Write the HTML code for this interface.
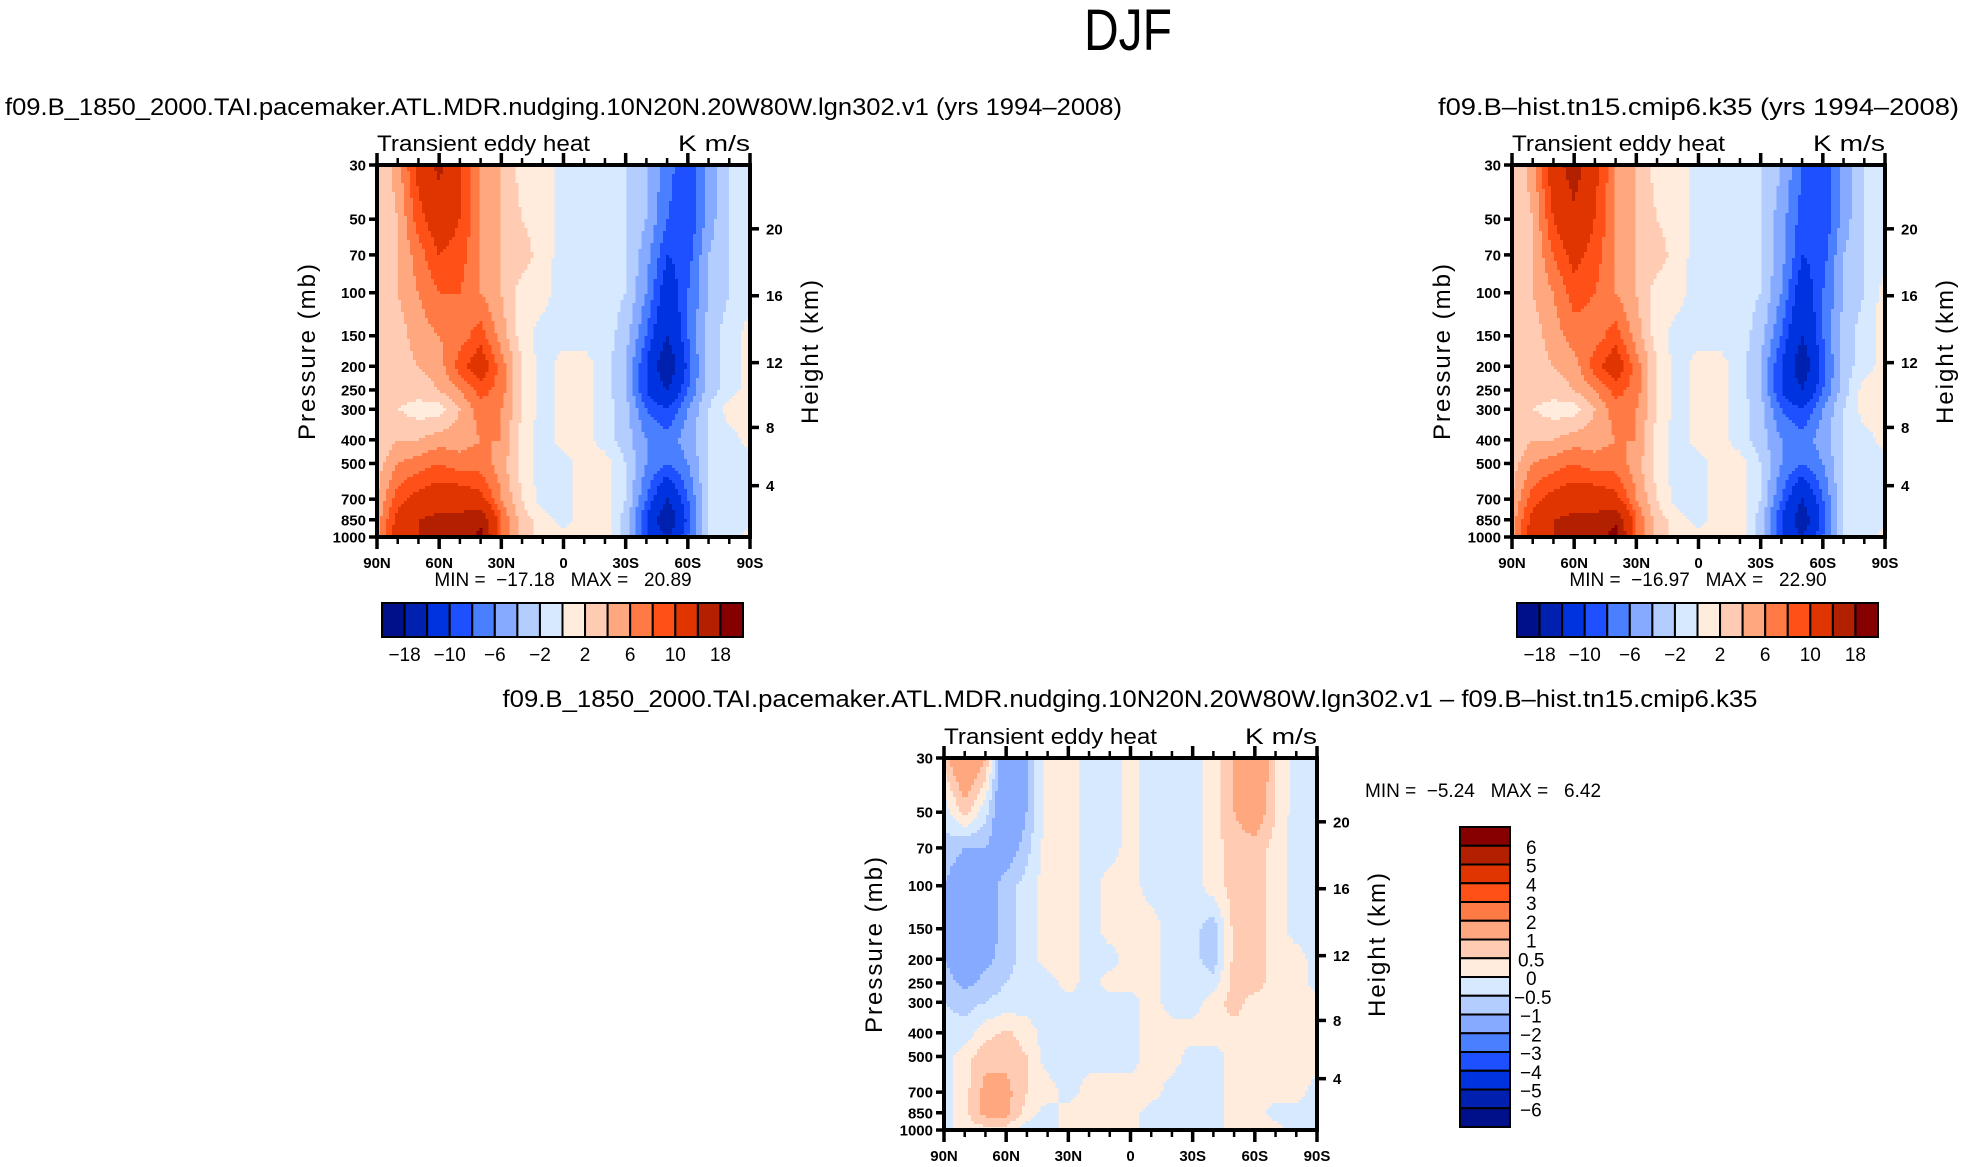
<!DOCTYPE html>
<html><head><meta charset="utf-8">
<style>
html,body{margin:0;padding:0;background:#fff;}
svg{display:block;font-family:"Liberation Sans",sans-serif;}
text{white-space:pre;}
</style></head>
<body>
<svg id="fig" width="1965" height="1167" viewBox="0 0 1965 1167" xmlns="http://www.w3.org/2000/svg">
<text x="1128" y="50" font-size="58" text-anchor="middle" textLength="88" lengthAdjust="spacingAndGlyphs">DJF</text>
<text x="5" y="115" font-size="24" textLength="1117" lengthAdjust="spacingAndGlyphs">f09.B_1850_2000.TAI.pacemaker.ATL.MDR.nudging.10N20N.20W80W.lgn302.v1 (yrs 1994–2008)</text>
<text x="1959" y="115" font-size="24" text-anchor="end" textLength="521" lengthAdjust="spacingAndGlyphs">f09.B–hist.tn15.cmip6.k35 (yrs 1994–2008)</text>
<text x="1130" y="707" font-size="24" text-anchor="middle" textLength="1255" lengthAdjust="spacingAndGlyphs">f09.B_1850_2000.TAI.pacemaker.ATL.MDR.nudging.10N20N.20W80W.lgn302.v1 – f09.B–hist.tn15.cmip6.k35</text>
<g id="layer"></g>
</svg>
<script>
// ---- data ----
const lats = [90,80,70,60,50,40,30,20,10,0,-10,-20,-30,-40,-50,-60,-70,-80,-90];
const levels = [30,50,70,100,150,200,250,300,400,500,700,850,1000];
const fullBounds = [-18,-14,-10,-8,-6,-4,-2,0,2,4,6,8,10,14,18];
const fullLabels = ["-18","-10","-6","-2","2","6","10","18"];
const diffBounds = [-6,-5,-4,-3,-2,-1,-0.5,0,0.5,1,2,3,4,5,6];
const diffLabels = ["6","5","4","3","2","1","0.5","0","-0.5","-1","-2","-3","-4","-5","-6"];
const palette = ["#00108a","#0020b0","#0033e0","#1e50ff","#4a7fff","#85aaff","#b3cdff","#d6e9ff","#ffecdc","#ffcbb3","#ffa880","#ff7a45","#ff5018","#e03500","#b22000","#870000"];
const field1 = [
[2,5,11,15,10,6,4,1,1,-1,-1,-1,-2,-4,-7,-10,-5,-2,-1],
[2,4,9,12,10,6,4,2,1,-1,-1,-1,-2,-4,-8,-10,-5,-2,-1],
[2,4,7,10,9,6,4,3,1,-1,-1,-1,-2,-5,-10,-9,-4,-2,-1],
[2,4,6,8,8,6,4,1,1,-1.5,-1,-1,-2,-6,-12,-8,-4,-2,-1],
[2,3,5,6,7,9,5,1,-1,-1,-1,-1,-3,-8,-14,-8,-3,-1,1],
[2,3,4,5,9,12,7,2,-1,1,1,-1,-4,-10,-18,-9,-3,-1,1],
[2,3,3,4,6,9,7,2,-1,1,1,-1,-4,-10,-14,-8,-3,-1,1],
[2,2,1,1,4,7,6,2,-1,1,1,-1,-3,-8,-10,-6,-2,1,1],
[2,4,4,5,5,6,6,1,-1,1,1,-1,-3,-6,-7,-5,-2,-1,1],
[3,6,7,8,7,7,5,1,-1,-1,1,1,-2,-6,-8,-6,-2,-1,-1],
[4,9,11,12,12,11,6,2,-1,-1,1,1,-2,-8,-14,-8,-2,-1,-1],
[5,11,14,15,15,17,8,3,1,-1,1,1,-3,-10,-18,-9,-2,-1,-1],
[5,12,14,16,15,19,8,3,1,1,1,1,-3,-10,-14,-8,-2,-1,1]];
const field2 = [
[2,5,12,16,11,6,4,1,1,-1,-1,-1,-2,-4,-8,-10,-5,-2,-1],
[2,4,10,13,10,6,4,2,1,-1,-1,-1,-2,-5,-9,-10,-5,-2,-1],
[2,4,8,11,9,6,4,3,1,-1,-1,-1,-2,-5,-10,-9,-4,-2,-1],
[2,4,6,9,8,6,4,1,1,-1.5,-1,-1,-2,-6,-12,-8,-4,-2,1],
[2,3,5,7,7,9,5,1,-1,-1,-1,-1,-3,-8,-14,-8,-3,-1,1],
[2,3,4,5,9,12,7,2,-1,1,1,-1,-4,-10,-17,-9,-3,-1,1],
[2,3,3,4,6,9,7,2,-1,1,1,-1,-4,-10,-14,-8,-3,1,1],
[2,2,1,1,4,7,6,2,-1,1,1,-1,-3,-8,-10,-6,-2,1,1],
[2,4,4,5,5,6,6,1,-1,1,1,-1,-3,-6,-7,-5,-2,-1,1],
[3,6,7,8,7,7,5,1,-1,-1,1,1,-2,-6,-8,-6,-2,-1,-1],
[4,9,11,12,12,11,6,2,-1,-1,1,1,-2,-8,-14,-8,-2,-1,-1],
[5,11,14,15,15,17,8,3,1,-1,1,1,-3,-10,-17,-9,-2,-1,-1],
[5,12,14,16,15,20,8,3,1,1,1,1,-3,-10,-14,-8,-2,-1,1]];
const field3 = [
[0.7,2,1,-2,-1,0.3,0.3,-0.3,-0.3,0.3,-0.3,-0.3,-0.3,0.3,1,2,0.5,-0.3,-0.3],
[-0.3,0.7,-0.3,-2,-1,0.3,0.3,-0.3,-0.3,0.3,-0.3,-0.3,-0.3,0.3,1,1.5,0.5,-0.3,-0.3],
[-0.7,-1,-1,-1.5,-0.7,0.3,0.3,-0.3,-0.3,0.3,-0.3,-0.3,-0.3,0.3,0.7,0.8,0.3,-0.3,-0.3],
[-1,-1.5,-1.5,-0.7,-0.3,0.3,0.3,-0.3,0.3,0.3,-0.3,-0.3,-0.3,0.3,0.7,0.7,0.3,-0.3,-0.3],
[-1,-1.5,-1.5,-0.7,-0.3,0.3,0.3,-0.3,0.3,0.3,0.3,-0.3,-0.3,-0.8,0.7,0.7,0.3,-0.3,-0.3],
[-1,-1.5,-1.2,-0.7,-0.3,0.3,0.3,-0.3,-0.3,0.3,0.3,-0.3,-0.3,-0.8,0.7,0.7,0.3,0.3,-0.3],
[-0.7,-1.2,-0.8,-0.5,-0.3,-0.3,0.3,-0.3,0.3,0.3,0.3,-0.3,-0.3,-0.3,0.7,0.7,0.3,0.3,-0.3],
[-0.5,-0.7,-0.5,-0.3,-0.3,-0.3,-0.3,-0.3,-0.3,-0.3,0.3,-0.3,-0.3,0.3,0.7,0.3,0.3,0.3,0.3],
[-0.3,-0.3,0.3,0.6,0.3,-0.3,-0.3,-0.3,-0.3,-0.3,0.3,0.3,0.3,0.3,0.3,0.3,0.3,0.3,0.3],
[-0.3,0.3,0.8,0.8,0.5,-0.3,-0.3,-0.3,-0.3,-0.3,0.3,0.3,-0.3,-0.3,0.3,0.3,0.3,0.3,0.3],
[-0.3,0.3,1.2,1.2,0.5,0.3,-0.3,0.3,0.3,0.3,0.3,-0.3,-0.3,-0.3,0.3,0.3,0.3,0.3,-0.3],
[-0.3,0.3,1.2,1.2,0.3,-0.3,0.3,0.3,0.3,0.3,-0.3,-0.3,-0.3,-0.3,0.3,0.3,-0.3,-0.3,-0.3],
[-0.3,0.3,0.3,0.3,-0.3,-0.3,0.3,0.3,0.3,0.3,-0.3,-0.3,-0.3,-0.3,0.3,0.3,0.3,-0.3,-0.3]];
const pTicks = [30,50,70,100,150,200,250,300,400,500,700,850,1000];
const zTicks = [4,8,12,16,20];
const latTicks = [90,60,30,0,-30,-60,-90];
const latTickLabels = ["90N","60N","30N","0","30S","60S","90S"];
const stats1 = ["-17.18","20.89"];
const stats2 = ["-16.97","22.90"];
const stats3 = ["-5.24","6.42"];

// ---- drawing ----
const NS="http://www.w3.org/2000/svg";
const layer=document.getElementById('layer');
function mk(tag,attrs,parent){const e=document.createElementNS(NS,tag);for(const k in attrs)e.setAttribute(k,attrs[k]);(parent||layer).appendChild(e);return e;}
function colorFor(v,b){let i=0;while(i<b.length&&v>=b[i])i++;return palette[i];}
function stdP(z){return z<=11?1013.25*Math.pow(1-0.0065*z*1000/288.15,5.2559):226.32*Math.exp(-(z-11)/6.3416);}
function sample(f,lat,lp){
  let li=(90-lat)/10; let i0=Math.min(Math.floor(li),lats.length-2); let tx=li-i0;
  let j0=0; const lps=levels.map(p=>Math.log(p));
  while(j0<levels.length-2&&lp>lps[j0+1])j0++;
  let ty=(lp-lps[j0])/(lps[j0+1]-lps[j0]); ty=Math.max(0,Math.min(1,ty));
  const a=f[j0][i0],b=f[j0][i0+1],c=f[j0+1][i0],d=f[j0+1][i0+1];
  return a*(1-tx)*(1-ty)+b*tx*(1-ty)+c*(1-tx)*ty+d*tx*ty;
}
function panel(name,X0,Y0,W,H,field,bounds){
  const g=mk('g',{});
  
  
  const xs=lat=>X0+(90-lat)/180*W;
  const lmin=Math.log(30),lmax=Math.log(1000);
  const ys=p=>Y0+(Math.log(p)-lmin)/(lmax-lmin)*H;
  const nx=124,ny=124,dx=W/nx,dy=H/ny;
  const cg=mk('g',{'shape-rendering':'crispEdges'},g);
  
  
  for(let r=0;r<ny;r++){
    const lp=lmin+(r+0.5)/ny*(lmax-lmin);
    let start=0,cur=null;
    for(let c=0;c<=nx;c++){
      let col=null;
      if(c<nx){const lat=90-(c+0.5)/nx*180;col=colorFor(sample(field,lat,lp),bounds);}
      if(col!==cur){
        if(cur!==null){
          const rc=mk('rect',{x:(X0+start*dx).toFixed(2),y:(Y0+r*dy).toFixed(2),width:((c-start)*dx+0.6).toFixed(2),height:(dy+0.6).toFixed(2),fill:cur},cg);
          
          
        }
        start=c;cur=col;
      }
    }
  }
  const fr=mk('rect',{x:X0,y:Y0,width:W,height:H,fill:'none',stroke:'#000','stroke-width':4},g);
  
  
  for(let l=90;l>=-90;l-=10){
    const x=xs(l);const maj=l%30===0;const len=maj?12:7;
    mk('line',{x1:x,x2:x,y1:Y0,y2:Y0-len,stroke:'#000','stroke-width':maj?3.5:2.5},g);
    mk('line',{x1:x,x2:x,y1:Y0+H,y2:Y0+H+len,stroke:'#000','stroke-width':maj?3.5:2.5},g);
  }
  latTicks.forEach((l,i)=>{const t=mk('text',{x:xs(l),y:Y0+H+31,'font-size':15,'font-weight':'bold','text-anchor':'middle'},g);t.textContent=latTickLabels[i];
    });
  pTicks.forEach(p=>{const y=ys(p);mk('line',{x1:X0-8,x2:X0,y1:y,y2:y,stroke:'#000','stroke-width':3.5},g);
    const t=mk('text',{x:X0-11,y:y+5.5,'font-size':15,'font-weight':'bold','text-anchor':'end'},g);t.textContent=p;
    });
  zTicks.forEach(z=>{const y=ys(stdP(z));mk('line',{x1:X0+W,x2:X0+W+9,y1:y,y2:y,stroke:'#000','stroke-width':3.5},g);
    const t=mk('text',{x:X0+W+16,y:y+5.5,'font-size':15,'font-weight':'bold'},g);t.textContent=z;
    });
  let t=mk('text',{x:X0,y:Y0-14,'font-size':22,'textLength':213,'lengthAdjust':'spacingAndGlyphs'},g);t.textContent='Transient eddy heat';
  
  t=mk('text',{x:X0+W,y:Y0-14,'font-size':22,'text-anchor':'end','textLength':72,'lengthAdjust':'spacingAndGlyphs'},g);t.textContent='K m/s';
  
  t=mk('text',{x:0,y:0,'font-size':24,'text-anchor':'middle','letter-spacing':2,transform:`translate(${X0-62},${Y0+H/2}) rotate(-90)`},g);t.textContent='Pressure (mb)';
  
  t=mk('text',{x:0,y:0,'font-size':24,'text-anchor':'middle','letter-spacing':2,transform:`translate(${X0+W+68},${Y0+H/2}) rotate(-90)`},g);t.textContent='Height (km)';
  
}
function stats(x,y,s,anchor){
  const t=mk('text',{x:x,y:y,'font-size':19,'text-anchor':anchor});
  t.textContent='MIN =  '+s[0].replace('-','−')+'   MAX =   '+s[1];
  
}
function hbar(X0,Y0,W,H){
  const g=mk('g',{});
  
  const bw=W/16;
  for(let i=0;i<16;i++){const r=mk('rect',{x:X0+i*bw,y:Y0,width:bw,height:H,fill:palette[i],stroke:'#000','stroke-width':2},g);
    }
  fullLabels.forEach((l,k)=>{const t=mk('text',{x:X0+(2*k+1)*bw,y:Y0+H+24,'font-size':19,'text-anchor':'middle'},g);t.textContent=l.replace('-','−');
    });
}
function vbar(X0,Y0,W,H){
  const g=mk('g',{});
  
  const bh=H/16;
  for(let i=0;i<16;i++){const r=mk('rect',{x:X0,y:Y0+i*bh,width:W,height:bh,fill:palette[15-i],stroke:'#000','stroke-width':2},g);
    }
  diffLabels.forEach((l,k)=>{const neg=l[0]==='-';const t=mk('text',{x:neg?X0+W+(l.length>2?4:10):X0+W+(l.length>1?8:16),y:Y0+(k+1)*bh+8,'font-size':19},g);t.textContent=l.replace('-','−');
    });
}
panel('left-panel',377,165,373,372,field1,fullBounds);
panel('right-panel',1512,165,373,372,field2,fullBounds);
panel('diff-panel',944,758,373,372,field3,diffBounds);
stats(563,586,stats1,'middle');
stats(1698,586,stats2,'middle');
stats(1365,797,stats3,'start');
hbar(382,603,361,34);
hbar(1517,603,361,34);
vbar(1460,827,50,300);
</script>
</body></html>
